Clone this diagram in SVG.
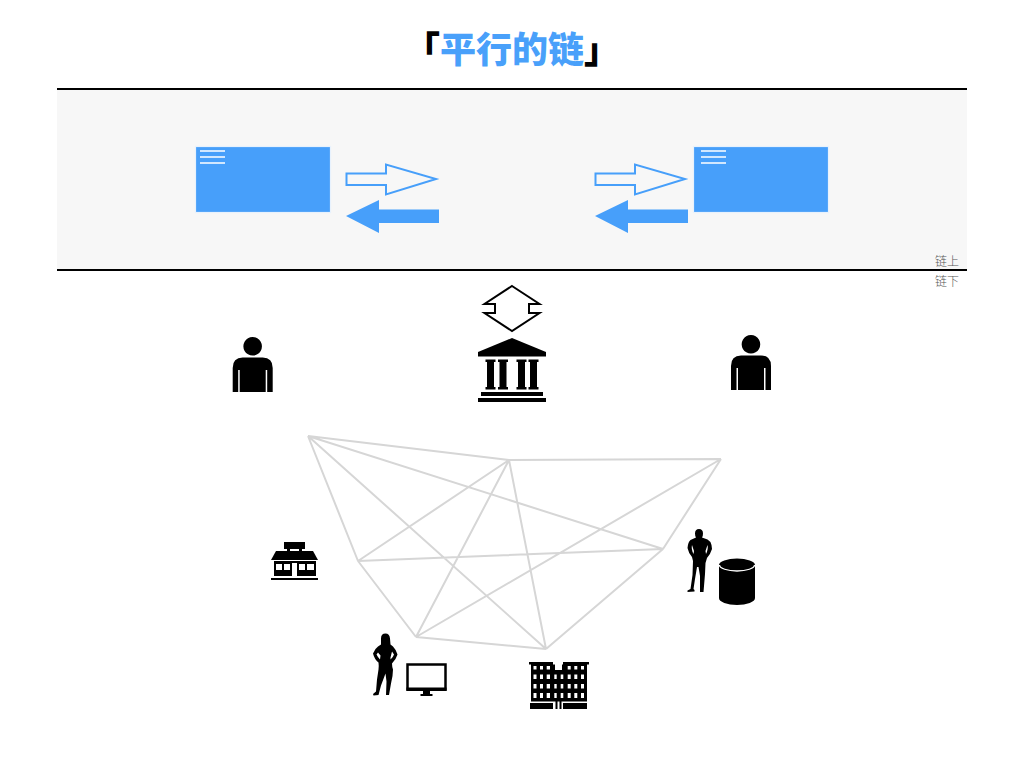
<svg xmlns="http://www.w3.org/2000/svg" xmlns:xlink="http://www.w3.org/1999/xlink" width="1024" height="768" viewBox="0 0 1024 768">
<style>
.t{font-family:"Noto Sans CJK SC","Liberation Sans",sans-serif;opacity:.99}
.card{fill:#479ffa;stroke:#e8f2fd;stroke-width:1.200}
.ln{stroke:#fff;stroke-width:1.500;fill:none}
.out{fill:#f7f7f7;stroke:#479ffa;stroke-width:2}
.sol{fill:#479ffa}
.e{stroke:#d6d6d6;stroke-width:2;fill:none}
.w{fill:#fff}
</style>
<defs>
<path id="person" d="M20 0A9.300 9.300 0 1 1 19.900 0ZM0 55V31Q0 20.500 10 20.500H30Q40 20.500 40 31V55H34.500V33H33V55H7V33H5.500V55Z"/>
<path id="col" d="M0 0H10V2.500H8.500V27.500H10V30H0V27.500H1.500V2.500H0Z"/>
</defs>
<g id="band">
<rect x="57" y="89" width="910" height="181" fill="#f7f7f7"/>
<path d="M57 89H967M57 270H967" stroke="#000" stroke-width="2"/>
</g>
<text class="t" x="512" y="63" font-size="36" font-weight="900" text-anchor="middle" fill="#000">「<tspan fill="#479ffa">平行的链</tspan>」</text>
<g id="card-left"><rect class="card" x="195.500" y="146.500" width="135" height="66"/><path class="ln" d="M200 151H225M200 157H225M200 163H225"/></g>
<g id="card-right"><rect class="card" x="693.500" y="146.500" width="135" height="66"/><path class="ln" d="M701 151H726M701 157H726M701 163H726"/></g>
<g id="arrows-left">
<path class="out" d="M346.500 173.500H386V164.500L436 179L386 194.500V185H346.500Z"/>
<path class="sol" d="M346 216L379 200V209.500H439V223H379V233Z"/>
</g>
<g id="arrows-right">
<path class="out" d="M595.500 173.500H635V164.500L685 179L635 194.500V185H595.500Z"/>
<path class="sol" d="M595 216L628 200V209.500H688V223H628V233Z"/>
</g>
<g id="labels">
<text class="t" x="947" y="265.500" font-size="12" font-weight="300" text-anchor="middle" fill="#555">链上</text>
<text class="t" x="947" y="285.500" font-size="12" font-weight="300" text-anchor="middle" fill="#555">链下</text>
</g>
<g id="updown"><path d="M512 286L539.500 304H529V313H539.500L512 331L484.500 313H495V304H484.500Z" fill="#fff" stroke="#000" stroke-width="2"/></g>
<g id="bank">
<path d="M512 338L546 352V356.500H478V352Z"/>
<use xlink:href="#col" x="485.500" y="359.500"/><use xlink:href="#col" x="498" y="359.500"/><use xlink:href="#col" x="516.500" y="359.500"/><use xlink:href="#col" x="528.500" y="359.500"/>
<path d="M481 392H543V396H481ZM478 398H546V402H478Z"/>
</g>
<g id="person-left" transform="translate(232.700,337)"><use xlink:href="#person"/></g>
<g id="person-right" transform="translate(731,335)"><use xlink:href="#person"/></g>
<g id="connectors">
<path class="e" d="M308 436L509 460M308 436L663 549M308 436L358 561M308 436L546 649M509 460L721 459M509 460L358 561M509 460L416 637M509 460L546 649M721 459L663 549M721 459L416 637M358 561L663 549M358 561L416 637M663 549L546 649M416 637L546 649"/>
</g>
<g id="shop">
<path d="M284 542H305V549H284Z"/><path d="M287 549H290V551H287ZM299 549H302V551H299Z"/>
<path d="M276 551H313L318 560H271Z"/>
<path fill-rule="evenodd" d="M274 561H316V576H274ZM276 564V570H282V564ZM284 564V570H290V564ZM299 564V570H305V564ZM307 564V570H314V564ZM292 563V576H297V563Z"/>
<rect x="271" y="578" width="47" height="2"/>
</g>
<g id="analyst" transform="translate(687.500,529)">
<path fill-rule="evenodd" d="M11.500 0Q15.500 0 15.500 4.500Q15.500 7 14.500 8.500L20 10.500Q23 12 24 16L24.500 20Q23 25 19.500 29L18 34L17.500 45L16 63H12.500V47L11 38H9.500L7.500 50L6 60L7 61V62.500L0 63V61.500L3 60L5 46L5.500 32L4.500 28Q1 24 0 19Q.5 13 3 11L8.500 8.500Q7.500 7 7.500 4.500Q7.500 0 11.500 0ZM4.500 16Q3.500 20 6 25L6.500 22ZM20 16L18 22L18.500 25Q21 20 20 16Z"/>
</g>
<g id="database">
<path d="M719 565A18 6.500 0 0 1 755 565V598A18 7 0 0 1 719 598Z"/>
<path d="M719.500 565A17.500 6 0 0 0 754.500 565" fill="none" stroke="#fff" stroke-width="1.300"/>
</g>
<g id="woman" transform="translate(373,633.500)">
<path fill-rule="evenodd" d="M12.500 0Q16.500 0 17 5L17.500 11L20 13Q23 16 24.500 21Q23 26 19 30Q19 33 20 36Q20 42 18 50L16 61.500H13L13.500 48L12.500 40L8 52L5.500 61.500L.5 62L0 60.500L3 58L4 46L5.500 36Q6 33 5.500 29Q1.500 26 0 20Q2 15 5 13L8 11V5Q8 0 12.500 0ZM5 19L3.500 21Q5 24 7 26L7.500 22ZM19 18L17.500 24L17.500 26Q20 24 21 21Z"/>
</g>
<g id="monitor">
<rect x="407.500" y="664.500" width="38" height="25" fill="#fff" stroke="#000" stroke-width="2.500"/>
<path d="M406.500 687.500H446.500V691H406.500ZM423 691H430V694H423ZM420.500 694H432.500V696H420.500Z"/>
</g>
<g id="building">
<path d="M529 662H553V664.500H555V670H562V664.500H563V662H589V664.500H587V701.500H531V664.500H529ZM530 703H553V709H530ZM563 703H587V709H563ZM555.500 701.500H557.500V709H555.500ZM559.500 701.500H561.500V709H559.500Z"/>
<path class="w" d="M533.500 666H536.500V669.500H533.500ZM540 666H543V669.500H540ZM546.700 666H550V669.500H546.700ZM567.700 666H570.700V669.500H567.700ZM574.300 666H577.300V669.500H574.300ZM581 666H584V669.500H581Z"/>
<path class="w" d="M533.500 674.500H536.500V679H533.500ZM540 674.500H543V679H540ZM546.700 674.500H550V679H546.700ZM554.300 674.500H556.700V679H554.300ZM560.700 674.500H563.300V679H560.700ZM567.700 674.500H570.700V679H567.700ZM574.300 674.500H577.300V679H574.300ZM581 674.500H584V679H581Z"/>
<path class="w" d="M533.500 684H536.500V688.500H533.500ZM540 684H543V688.500H540ZM546.700 684H550V688.500H546.700ZM554.300 684H556.700V688.500H554.300ZM560.700 684H563.300V688.500H560.700ZM567.700 684H570.700V688.500H567.700ZM574.300 684H577.300V688.500H574.300ZM581 684H584V688.500H581Z"/>
<path class="w" d="M533.500 693H536.500V698H533.500ZM540 693H543V698H540ZM546.700 693H550V698H546.700ZM554.300 693H556.700V698H554.300ZM560.700 693H563.300V698H560.700ZM567.700 693H570.700V698H567.700ZM574.300 693H577.300V698H574.300ZM581 693H584V698H581Z"/>
</g>
</svg>
